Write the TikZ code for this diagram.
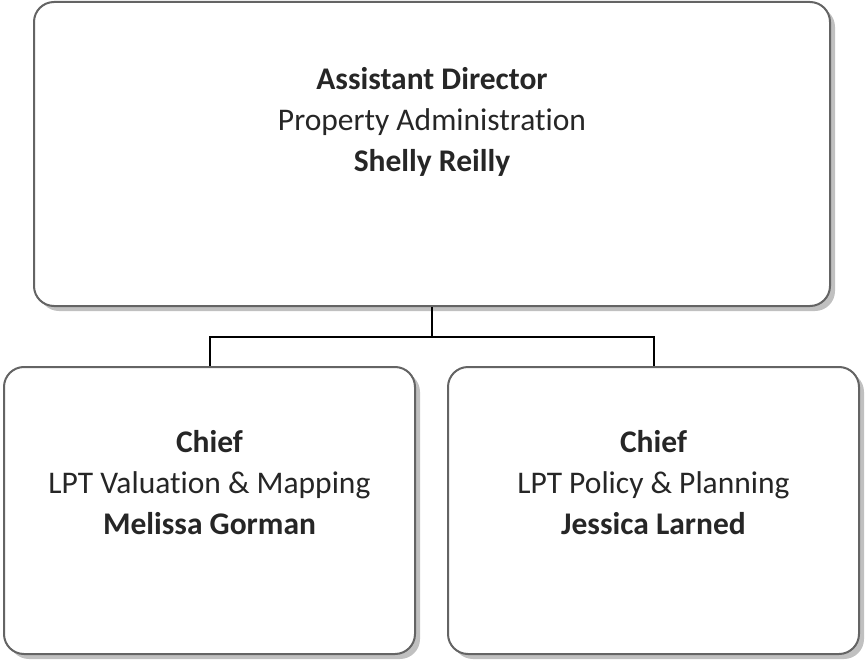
\documentclass[tikz,border=0pt]{standalone}
\usepackage{fontspec}
\setmainfont[Ligatures=NoCommon]{Carlito}
\usetikzlibrary{positioning,shadows}

\definecolor{boxline}{RGB}{100,100,100}
\definecolor{boxshadow}{RGB}{192,192,192}
\definecolor{textgray}{RGB}{38,38,38}

\begin{document}
\begin{tikzpicture}[x=1pt, y=-1pt]
  % Define styles
  \tikzset{
    unit/.style={draw=boxline, line width=2pt, rounded corners=20pt, fill=white,
      general shadow={fill=boxshadow, shadow xshift=5pt, shadow yshift=-5pt}},
    caption/.style={align=center, inner sep=0pt, text=textgray,
      font=\fontsize{31.5}{41}\selectfont, execute at begin node={\rule{0pt}{24pt}}},
    branch/.style={line width=2pt, black}
  }
  \useasboundingbox (0,0) rectangle (865,661);

  % Boxes
  \node[unit, minimum width=796pt, minimum height=304pt] (director) at (432,154) {};
  \node[unit, minimum width=411pt, minimum height=287pt] (valuation) at (209.5,510.5) {};
  \node[unit, minimum width=411pt, minimum height=287pt] (planning) at (653.5,510.5) {};

  % Texts
  \node[caption, below=66pt of director.north] (directortext)
    {\textbf{Assistant Director}\\Property Administration\\\textbf{Shelly Reilly}};
  \node[caption, below=64pt of valuation.north] (valuationtext)
    {\textbf{Chief}\\LPT Valuation \& Mapping\\\textbf{Melissa Gorman}};
  \node[caption, below=64pt of planning.north] (planningtext)
    {\textbf{Chief}\\LPT Policy \& Planning\\\textbf{Jessica Larned}};

  % Connectors
  \coordinate (split) at (432,337);
  \draw[branch] (director.south) -- (split);
  \draw[branch] (valuation.north) |- (split) -| (planning.north);
\end{tikzpicture}
\end{document}
